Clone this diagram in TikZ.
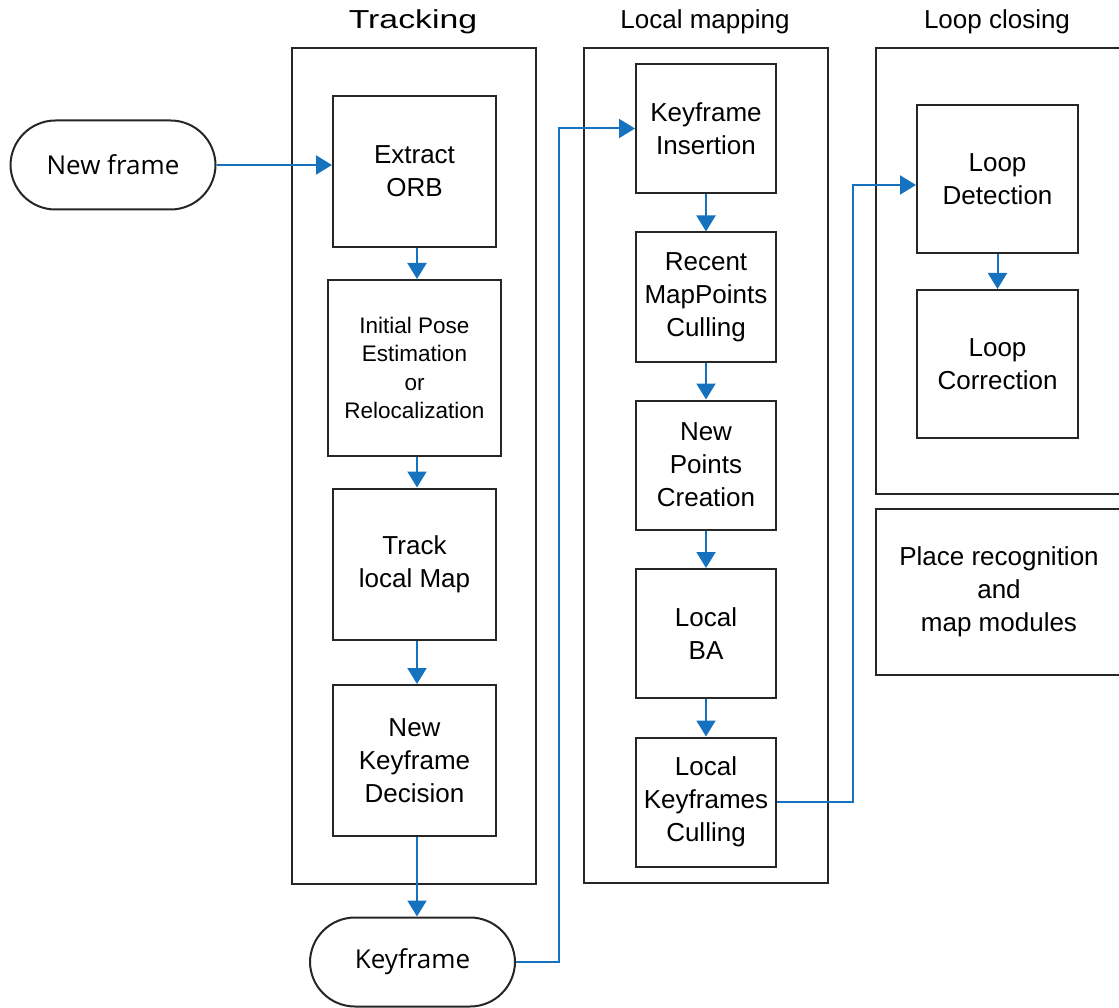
\documentclass[tikz,border=0pt]{standalone}
\usepackage{fontspec}
\setmainfont{Liberation Sans}
\newfontfamily\ovalfont{Open Sans}
\usepackage{tikz}
\usetikzlibrary{arrows.meta, calc}
\definecolor{edge}{RGB}{38, 38, 38}
\definecolor{flow}{RGB}{22, 114, 190}

\begin{document}
\begin{tikzpicture}[x=1pt, y=-1pt,
    step box/.style={draw=edge, line width=2pt, inner sep=0pt, align=center,
      minimum width=163, minimum height=151, font=\fontsize{26}{33}\selectfont},
    map box/.style={step box, minimum width=140, minimum height=129},
    frame/.style={draw=edge, line width=2pt, inner sep=0pt},
    oval/.style={draw=edge, line width=2pt, rounded corners=45pt, inner sep=0pt,
      minimum width=205, minimum height=89, font=\ovalfont\fontsize{26}{30}\selectfont},
    title/.style={font=\fontsize{26}{30}\selectfont},
    link/.style={draw=flow, line width=2pt, -{Triangle[length=16pt, width=19pt]}}]
  \useasboundingbox (0, 0) rectangle (1119, 1008);

  % the three threads
  \node[frame, minimum width=244, minimum height=836] (trk) at (414, 466) {};
  \node[frame, minimum width=244, minimum height=835] (lmap) at (706, 465.5) {};
  \node[frame, minimum width=246, minimum height=446] (lcl) at (999, 271) {};
  \node[frame, minimum width=246, minimum height=166, align=center,
    font=\fontsize{26}{33}\selectfont] (prm) at (999, 592)
    {Place recognition\\and\\map modules};

  \node[title] (trkt) at (413, 22) {\scalebox{1.3}[1]{Tracking}};
  \node[title] (lmapt) at (705, 22) {Local mapping};
  \node[title] (lclt) at (997, 22) {Loop closing};

  % tracking
  \node[oval] (nf) at (113, 165) {New frame};
  \node[step box] (orb) at (414.5, 171.5) {Extract\\ORB};
  \node[step box, minimum width=173, minimum height=176,
    font=\fontsize{22.5}{28.5}\selectfont] (pose) at (414.5, 368)
    {Initial Pose\\Estimation\\or\\Relocalization};
  \node[step box] (tlm) at (414.5, 564) {Track\\local Map};
  \node[step box] (nkd) at (414.5, 760.5) {New\\Keyframe\\Decision};
  \node[oval] (kf) at (412.5, 962) {Keyframe};

  % local mapping
  \node[map box] (ins) at (706, 128.5) {Keyframe\\Insertion};
  \node[map box] (rmc) at (706, 297) {Recent\\MapPoints\\Culling};
  \node[map box] (npc) at (706, 465) {New\\Points\\Creation};
  \node[map box] (lba) at (706, 633.5) {Local\\BA};
  \node[map box] (lkc) at (706, 802) {Local\\Keyframes\\Culling};

  % loop closing
  \node[step box, minimum width=161, minimum height=148] (ld) at (997.5, 179) {Loop\\Detection};
  \node[step box, minimum width=161, minimum height=148] (lc) at (997.5, 364) {Loop\\Correction};

  \draw[link] (nf.east) -- (nf.east -| orb.west);
  \draw[link] ([xshift=2.5]orb.south) -- ([xshift=2.5]orb.south |- pose.north);
  \draw[link] ([xshift=2.5]pose.south) -- ([xshift=2.5]pose.south |- tlm.north);
  \draw[link] ([xshift=2.5]tlm.south) -- ([xshift=2.5]tlm.south |- nkd.north);
  \draw[link] ([xshift=2.5]nkd.south) -- ([xshift=2.5]nkd.south |- kf.north);
  \draw[link] (kf.east) -| ([xshift=43]kf.east |- ins.west) -- (ins.west);
  \draw[link] (ins) -- (rmc);
  \draw[link] (rmc) -- (npc);
  \draw[link] (npc) -- (lba);
  \draw[link] (lba) -- (lkc);
  \draw[link] (lkc.east) -| ([xshift=76, yshift=-6]lkc.east |- ld.west) -- ([yshift=-6]ld.west);
  \draw[link] (ld) -- (lc);

\end{tikzpicture}
\end{document}
